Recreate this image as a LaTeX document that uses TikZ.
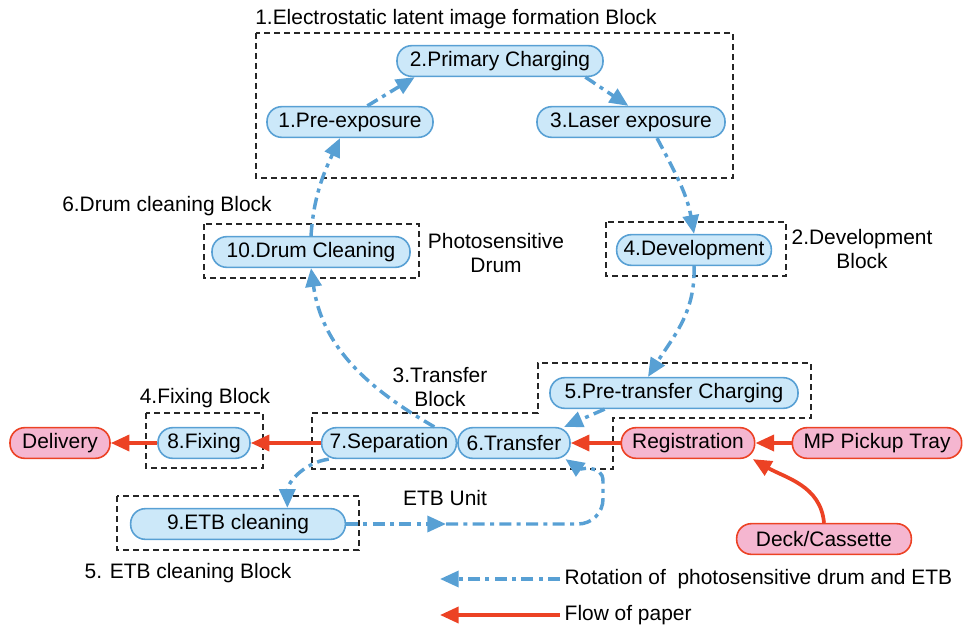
\documentclass[tikz,border=0pt]{standalone}
\usepackage{fontspec}
\setmainfont{Liberation Sans}
\usetikzlibrary{arrows.meta,positioning}
\definecolor{drumblue}{RGB}{88,160,212}
\definecolor{stagefill}{RGB}{204,232,249}
\definecolor{paperred}{RGB}{236,66,36}
\definecolor{paperfill}{RGB}{245,182,208}
\tikzset{
  stage/.style    = {rectangle, rounded corners=11pt, draw=drumblue, line width=1.2pt,
                     fill=stagefill, minimum height=23pt, inner xsep=2pt, inner ysep=0pt},
  paper/.style    = {stage, draw=paperred, fill=paperfill},
  blockbox/.style = {draw=black!85, line width=1pt, dash pattern=on 4.5pt off 3pt},
  rot/.style      = {-{Triangle[length=14pt,width=12pt]}, drumblue, line width=2.6pt,
                     dash pattern=on 9pt off 4pt on 3pt off 4pt},
  flow/.style     = {-{Triangle[length=14pt,width=12pt]}, paperred, line width=2.8pt},
  lbl/.style      = {align=center},
}

\begin{document}
\begin{tikzpicture}[x=0.75pt,y=0.75pt,every node/.style={font=\fontsize{15.7}{18}\selectfont}]
  \useasboundingbox (0,0) rectangle (963,-631);

  % dashed blocks
  \draw[blockbox] (256,-33) rectangle (733,-178);
  \draw[blockbox] (204,-224) rectangle (419,-278);
  \draw[blockbox] (606,-222) rectangle (786,-276);
  \draw[blockbox] (312,-413) -- (538,-413) -- (538,-363) -- (811,-363) -- (811,-418)
                  -- (613,-418) -- (613,-469) -- (312,-469) -- cycle;
  \draw[blockbox] (146,-413) rectangle (263,-468);
  \draw[blockbox] (117,-496) rectangle (359,-550);

  \node[lbl] (blk1) at (456,-19)  {1.Electrostatic latent image formation Block};
  \node[lbl] (blk6) at (167,-206) {6.Drum cleaning Block};
  \node[lbl] (drumlbl) at (496,-253) {Photosensitive\\Drum};
  \node[lbl] (blk2) at (862,-249) {2.Development\\Block};
  \node[lbl] (blk3) at (440,-387) {3.Transfer\\Block};
  \node[lbl] (blk4) at (205,-398) {4.Fixing Block};
  \node[lbl] (blk5) at (188,-573) {5. ETB cleaning Block};
  \node[lbl] (etbunit) at (445,-498) {ETB Unit};

  % process stages
  \node[stage, minimum width=154.5pt] (prim)  at (500,-61)  {2.Primary Charging};
  \node[stage, minimum width=124.5pt] (pre)   at (350,-122) {1.Pre-exposure};
  \node[stage, minimum width=141pt]   (laser) at (631,-122) {3.Laser exposure};
  \node[stage, minimum width=148.5pt] (drum)  at (311,-252) {10.Drum Cleaning};
  \node[stage, minimum width=116pt]   (dev)   at (694,-250) {4.Development};
  \node[stage, minimum width=186pt]   (pret)  at (674,-393) {5.Pre-transfer Charging};
  \node[stage, minimum width=101pt]   (sep)   at (389,-443) {7.Separation};
  \node[stage, minimum width=84pt]    (trans) at (514,-443) {6.Transfer};
  \node[stage, minimum width=69pt]    (fix)   at (204,-443) {8.Fixing};
  \node[stage, minimum width=161pt]   (etb)   at (238,-524) {9.ETB cleaning};

  % paper path
  \node[paper, minimum width=75pt]  (deliv) at (60,-443)  {Delivery};
  \node[paper, minimum width=100pt] (reg)   at (688,-443) {Registration};
  \node[paper, minimum width=127pt] (mp)    at (877,-443) {MP Pickup Tray};
  \node[paper, minimum width=131pt] (deck)  at (824,-539) {Deck/Cassette};

  % drum rotation
  \draw[rot] ([xshift=13pt]pre.north) -- ([xshift=-64pt]prim.south);
  \draw[rot] ([xshift=64pt]prim.south) -- ([xshift=-2pt]laser.north);
  \draw[rot] ([xshift=19.5pt]laser.south) to[out=-62,in=100] (dev.north);
  \draw[rot] (dev.south) to[out=-88,in=58] ([xshift=-19.5pt]pret.north);
  \draw[rot] ([xshift=-52pt]pret.south) -- ([xshift=-5pt]trans.north east);
  \draw[rot] ([xshift=34pt]sep.north) to[out=150,in=-82] (drum.south);
  \draw[rot] (drum.north) to[out=86,in=-115] ([xshift=-7.5pt]pre.south);
  \draw[rot] (sep.195) to[out=188,in=90] ([xshift=37pt]etb.north);

  % ETB belt
  \coordinate (etbmid) at (446,-524);
  \draw[rot] (etb.east) -- (etbmid);
  \draw[rot] (etbmid) -- (578,-524) to[out=0,in=-90] (603,-499) -- (603,-481)
             to[out=90,in=-35] ([xshift=-4pt]trans.south east);

  % paper flow
  \draw[flow] (mp) -- (reg);
  \draw[flow] (reg) -- (trans);
  \draw[flow] (sep) -- (fix);
  \draw[flow] (fix) -- (deliv);
  \draw[flow] (deck.north) to[out=95,in=-30] ([xshift=-2pt]reg.south east);

  % legend
  \node[anchor=west] (legrot)  at (560,-579) {Rotation of\ \ photosensitive drum and ETB};
  \node[anchor=west] (legflow) at (560,-615) {Flow of paper};
  \coordinate (legrotend)  at (440,-579);
  \coordinate (legflowend) at (440,-615);
  \draw[rot]  (legrot.west) -- (legrotend);
  \draw[flow] (legflow.west) -- (legflowend);
\end{tikzpicture}
\end{document}
